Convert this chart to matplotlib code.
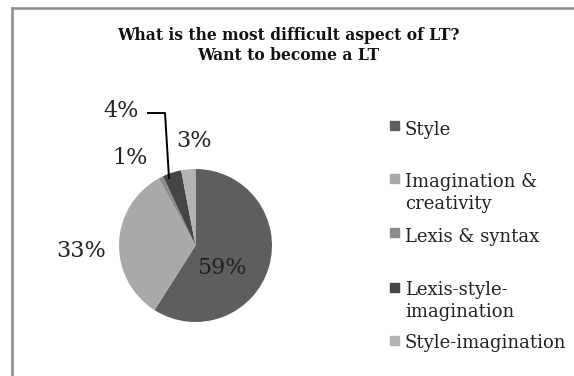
import matplotlib
matplotlib.use("Agg")
import matplotlib.pyplot as plt
from matplotlib.patches import Rectangle
from matplotlib.lines import Line2D

categories = ["Style", "Imagination &\ncreativity", "Lexis & syntax",
              "Lexis-style-\nimagination", "Style-imagination"]
values = [59, 33, 1, 4, 3]
colors = ["#5e5e5e", "#a9a9a9", "#8c8c8c", "#454545", "#b3b3b3"]

W, H = 574, 376
fig = plt.figure(figsize=(W / 100, H / 100), dpi=100)
fig.patch.set_facecolor("white")


def to_fig(px, py):
    return px / W, 1 - py / H


# chart frame (left and top edges visible)
fig.add_artist(Line2D([12 / W, 12 / W], [0, 1 - 8 / H], color="#8a8a8a", lw=1.8))
fig.add_artist(Line2D([12 / W, 1], [1 - 8 / H, 1 - 8 / H], color="#8a8a8a", lw=1.8))

serif = ["DejaVu Serif"]
title_lines = ["What is the most difficult aspect of LT?", "Want to become a LT"]
for line, base in zip(title_lines, [40, 60]):
    x, y = to_fig(288.5, base)
    fig.text(x, y, line, ha="center", va="baseline", fontsize=11.2,
             fontweight="bold", family=serif, color="#111111")

# pie: centre (195.5, 245.5) px, radius 76.5 px
cx, cy, r = 195.5, 245.5, 76.5
ax = fig.add_axes([(cx - r) / W, 1 - (cy + r) / H, 2 * r / W, 2 * r / H])
ax.pie(values, colors=colors, startangle=90, counterclock=False,
       radius=1.0, wedgeprops=dict(linewidth=0))
ax.set_xlim(-1, 1)
ax.set_ylim(-1, 1)
ax.set_aspect("auto")
ax.axis("off")

# percentage labels (centre x, baseline y in px)
label_pos = [(222, 274), (81, 257), (130, 164), (121, 117), (194, 147)]
for v, (px, py) in zip(values, label_pos):
    x, y = to_fig(px, py)
    fig.text(x, y, f"{v}%", ha="center", va="baseline", fontsize=16,
             family=serif, color="#222222")

# leader line for the 4% label
pts = [(148, 113), (165, 113), (169, 178)]
fig.add_artist(Line2D([p[0] / W for p in pts], [1 - p[1] / H for p in pts],
                      color="black", lw=1.4))

# legend: square top y, and baselines of each text line
legend_squares = [121, 174, 228, 283, 336]
legend_baselines = [[135], [187, 209], [242], [295, 317], [348]]
for name, col, sq, bases in zip(categories, colors, legend_squares, legend_baselines):
    fig.add_artist(Rectangle((390 / W, 1 - (sq + 9) / H), 9 / W, 9 / H,
                             color=col, transform=fig.transFigure))
    for part, base in zip(name.split("\n"), bases):
        x, y = to_fig(405, base)
        fig.text(x, y, part, ha="left", va="baseline", fontsize=13,
                 family=serif, color="#222222")

fig.savefig("out.png", dpi=100)
